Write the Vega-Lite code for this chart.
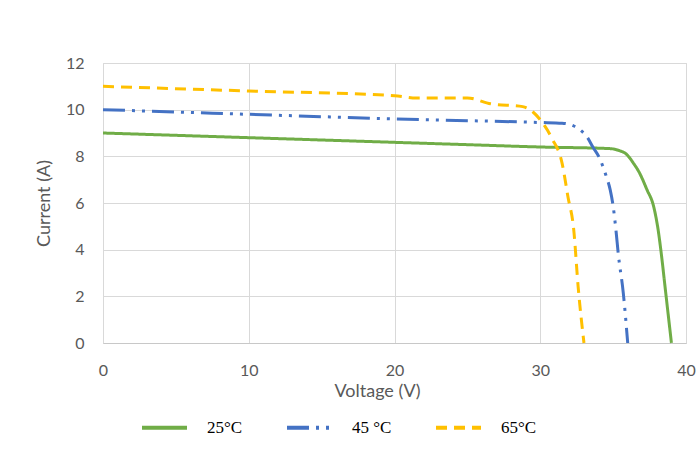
{
  "$schema": "https://vega.github.io/schema/vega-lite/v6.json",
  "width": 583,
  "height": 280,
  "autosize": "none",
  "padding": {"left": 103, "top": 63, "right": 14, "bottom": 118},
  "background": "white",
  "config": {
    "view": {"stroke": "#d9d9d9", "strokeWidth": 1},
    "axis": {
      "labelFont": "Lato", "titleFont": "Lato", "labelColor": "#595959", "titleColor": "#595959",
      "labelFontSize": 16, "titleFontSize": 18, "titleFontWeight": "normal",
      "gridColor": "#d9d9d9", "gridWidth": 1, "domainColor": "#c8c8c8", "ticks": false
    }
  },
  "data": {"values": [
    {"s":"25°C","v":0,"i":9},{"s":"25°C","v":5,"i":8.9},{"s":"25°C","v":10,"i":8.8},{"s":"25°C","v":15,"i":8.7},{"s":"25°C","v":20,"i":8.6},{"s":"25°C","v":25,"i":8.5},{"s":"25°C","v":30,"i":8.4},{"s":"25°C","v":34.8,"i":8.33},{"s":"25°C","v":35.4,"i":8.25},{"s":"25°C","v":35.9,"i":8.1},{"s":"25°C","v":36.4,"i":7.7},{"s":"25°C","v":36.8,"i":7.3},{"s":"25°C","v":37.3,"i":6.6},{"s":"25°C","v":37.8,"i":5.8},{"s":"25°C","v":38.1,"i":4.8},{"s":"25°C","v":38.3,"i":3.85},{"s":"25°C","v":38.6,"i":2.2},{"s":"25°C","v":39,"i":0},
    {"s":"45 °C","v":0,"i":10},{"s":"45 °C","v":5,"i":9.9},{"s":"45 °C","v":10,"i":9.8},{"s":"45 °C","v":15,"i":9.7},{"s":"45 °C","v":20,"i":9.6},{"s":"45 °C","v":25,"i":9.53},{"s":"45 °C","v":30,"i":9.45},{"s":"45 °C","v":31.5,"i":9.42},{"s":"45 °C","v":32.3,"i":9.3},{"s":"45 °C","v":32.8,"i":9.1},{"s":"45 °C","v":33.2,"i":8.84},{"s":"45 °C","v":33.6,"i":8.41},{"s":"45 °C","v":34.1,"i":7.88},{"s":"45 °C","v":34.5,"i":7.2},{"s":"45 °C","v":34.8,"i":6.56},{"s":"45 °C","v":35.0,"i":5.87},{"s":"45 °C","v":35.2,"i":4.8},{"s":"45 °C","v":35.35,"i":3.84},{"s":"45 °C","v":35.7,"i":2.13},{"s":"45 °C","v":36,"i":0},
    {"s":"65°C","v":0,"i":11},{"s":"65°C","v":10,"i":10.8},{"s":"65°C","v":20,"i":10.6},{"s":"65°C","v":21.5,"i":10.5},{"s":"65°C","v":25,"i":10.5},{"s":"65°C","v":26.6,"i":10.25},{"s":"65°C","v":28.8,"i":10.13},{"s":"65°C","v":29.5,"i":9.9},{"s":"65°C","v":30.2,"i":9.4},{"s":"65°C","v":30.8,"i":8.77},{"s":"65°C","v":31.5,"i":7.7},{"s":"65°C","v":31.9,"i":6.27},{"s":"65°C","v":32.3,"i":4.84},{"s":"65°C","v":32.6,"i":2.41},{"s":"65°C","v":33,"i":0}
  ]},
  "mark": {"type": "line", "strokeWidth": 3, "interpolate": "monotone", "strokeCap": "butt"},
  "encoding": {
    "x": {"field": "v", "type": "quantitative", "scale": {"domain": [0, 40]}, "axis": {"values": [0,10,20,30,40], "title": "Voltage (V)", "labelPadding": 19, "labelFlush": false, "titlePadding": 4, "titleX": 274}},
    "y": {"field": "i", "type": "quantitative", "scale": {"domain": [0, 12]}, "axis": {"values": [0,2,4,6,8,10,12], "title": "Current (A)", "labelPadding": 19, "titlePadding": 12, "domain": false}},
    "color": {"field": "s", "type": "nominal", "sort": ["25°C","45 °C","65°C"], "scale": {"domain": ["25°C","45 °C","65°C"], "range": ["#70ad47","#4472c4","#ffc000"]},
      "legend": {"title": null, "orient": "none", "legendX": 37, "legendY": 340, "direction": "horizontal", "symbolType": "stroke", "symbolSize": 2025, "symbolStrokeWidth": 4, "labelFont": "Liberation Serif", "labelFontSize": 17, "labelColor": "#000000", "labelOffset": 18, "columnPadding": 36}},
    "strokeDash": {"field": "s", "type": "nominal", "sort": ["25°C","45 °C","65°C"], "scale": {"domain": ["25°C","45 °C","65°C"], "range": [[1,0],[22,7,3,7,3,7],[11,7]]}, "legend": {"title": null}}
  }
}
